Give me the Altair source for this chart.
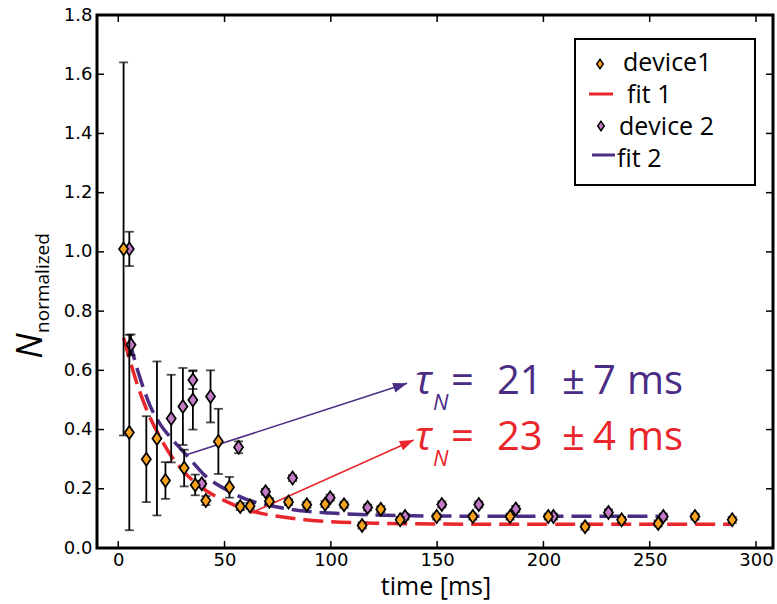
import altair as alt
import pandas as pd

# ---- measurements, device 1 ----
t1 = [2.5, 5.2, 13.2, 18.2, 22.2, 31.0, 36.2, 41.2, 47.1, 52.3, 57.4, 62.0, 71.1, 80.1,
      88.7, 97.3, 106.2, 114.7, 123.5, 132.6, 149.8, 166.8, 184.3, 202.3, 219.6, 236.8,
      254.0, 271.3, 288.8]
n1 = [1.01, 0.39, 0.30, 0.37, 0.228, 0.27, 0.213, 0.16, 0.36, 0.205, 0.14, 0.142, 0.158,
      0.155, 0.146, 0.148, 0.146, 0.076, 0.131, 0.095, 0.106, 0.106, 0.106, 0.106, 0.072,
      0.095, 0.083, 0.106, 0.095]
e1 = [0.63, 0.33, 0.145, 0.26, 0.062, 0.062, 0.035, 0.015, 0.11, 0.035, 0.012, 0.01, 0.01,
      0.01, 0.01, 0.01, 0.01, 0.01, 0.01, 0.01, 0.01, 0.01, 0.01, 0.01, 0.01, 0.01, 0.01,
      0.01, 0.01]

# ---- measurements, device 2 ----
t2 = [5.2, 6.0, 24.9, 30.4, 35.1, 35.1, 39.3, 43.4, 56.6, 69.3, 82.0, 99.7, 117.3, 134.9,
      152.2, 169.6, 187.0, 204.7, 230.6, 256.4]
n2 = [1.01, 0.686, 0.437, 0.478, 0.567, 0.50, 0.217, 0.512, 0.34, 0.19, 0.236, 0.17, 0.137,
      0.106, 0.147, 0.147, 0.132, 0.106, 0.12, 0.106]
e2 = [0.058, 0.035, 0.148, 0.13, 0.03, 0.10, 0.01, 0.088, 0.02, 0.01, 0.01, 0.01, 0.01,
      0.01, 0.01, 0.01, 0.01, 0.01, 0.01, 0.01]

# ---- exponential fits ----
fit1_t = [2.5, 10, 15, 20, 25, 30, 35, 40, 50, 60, 70, 80, 90, 100, 120, 150, 200, 250, 288.8]
fit1_n = [0.71, 0.53, 0.44, 0.37, 0.31, 0.265, 0.228, 0.20, 0.16, 0.13, 0.113, 0.102, 0.094,
          0.089, 0.084, 0.081, 0.080, 0.080, 0.080]
fit2_t = [5.2, 10, 15, 20, 25, 30, 35, 40, 50, 60, 70, 80, 90, 100, 120, 150, 200, 256.4]
fit2_n = [0.70, 0.58, 0.48, 0.415, 0.37, 0.33, 0.29, 0.25, 0.20, 0.165, 0.145, 0.132, 0.123,
          0.118, 0.112, 0.108, 0.107, 0.107]

# arrows from the fit curves to the time-constant labels
arrow1 = {"t": [62.1], "n": [0.117], "t2": [139.0], "n2": [0.365]}
arrow2 = {"t": [31.0], "n": [0.312], "t2": [135.9], "n2": [0.556]}

x_ticks = [0, 50, 100, 150, 200, 250, 300]
y_ticks = [0.0, 0.2, 0.4, 0.6, 0.8, 1.0, 1.2, 1.4, 1.6, 1.8]

ORANGE = "#f7a21f"
ORCHID = "#c27ac6"
RED = "#e8262b"
INDIGO = "#4b2c85"
TEXT_FONT = "Open Sans"
DIAMOND = "M0,-1L0.7,0L0,1L-0.7,0Z"
HEAD = "M0,0L-2,-0.72L-2,0.72Z"

W, H = 676, 533

xscale = alt.Scale(domain=[-10, 308], nice=False, zero=False)
yscale = alt.Scale(domain=[0, 1.8], nice=False, zero=False)
xaxis = alt.Axis(values=x_ticks, format="d", title="", ticks=False, domain=False, grid=False,
                 labelFont="DejaVu Sans", labelFontSize=18, labelColor="black", labelPadding=3)
yaxis = alt.Axis(values=y_ticks, format=".1f", title="", ticks=False, domain=False, grid=False,
                 labelFont="DejaVu Sans", labelFontSize=18, labelColor="black", labelPadding=5)


def X(field):
    return alt.X(f"{field}:Q", scale=xscale, axis=xaxis)


def Y(field):
    return alt.Y(f"{field}:Q", scale=yscale, axis=yaxis)


def series_frame(t, n, e):
    return pd.DataFrame({"t": t, "n": n,
                         "lo": [a - b for a, b in zip(n, e)],
                         "hi": [a + b for a, b in zip(n, e)]})


d1 = series_frame(t1, n1, e1)
d2 = series_frame(t2, n2, e2)


def errorbars(df):
    bars = alt.Chart(df).mark_rule(color="black", strokeWidth=1.8).encode(
        x=X("t"), y=Y("lo"), y2="hi")
    cap_hi = alt.Chart(df).mark_tick(orient="horizontal", color="black", size=9,
                                     thickness=1.8).encode(x=X("t"), y=Y("hi"))
    cap_lo = alt.Chart(df).mark_tick(orient="horizontal", color="black", size=9,
                                     thickness=1.8).encode(x=X("t"), y=Y("lo"))
    return bars + cap_hi + cap_lo


def diamonds(df, color):
    return alt.Chart(df).mark_point(shape=DIAMOND, filled=True, fill=color, stroke="black",
                                    strokeWidth=1.7, size=170, opacity=1).encode(
        x=X("t"), y=Y("n"))


def fit_line(t, n, color):
    return alt.Chart(pd.DataFrame({"t": t, "n": n})).mark_line(
        color=color, strokeWidth=3.5, strokeDash=[20, 8], interpolate="monotone").encode(
        x=X("t"), y=Y("n"))


def arrow(spec, color, angle):
    df = pd.DataFrame(spec)
    shaft = alt.Chart(df).mark_rule(color=color, strokeWidth=1.6).encode(
        x=X("t"), y=Y("n"), x2="t2", y2="n2")
    head = alt.Chart(df).mark_point(shape=HEAD, filled=True, color=color, size=196,
                                    angle=angle, opacity=1).encode(x=X("t2"), y=Y("n2"))
    return shaft + head


def label(txt, px, py, size, color="black", style="normal", angle=0, align="left",
          baseline="alphabetic", font=TEXT_FONT):
    return alt.Chart(pd.DataFrame({"txt": [txt]})).mark_text(
        align=align, baseline=baseline, font=font, fontSize=size, fontStyle=style,
        color=color, angle=angle).encode(x=alt.value(px), y=alt.value(py), text="txt:N")


# inward frame ticks on all four sides
xt = pd.DataFrame({"t": x_ticks})
yt = pd.DataFrame({"n": y_ticks})
tick_kw = dict(color="black", strokeWidth=1.5)
frame_ticks = (
    alt.Chart(xt).mark_rule(**tick_kw).encode(x=X("t"), y=alt.value(H), y2=alt.value(H - 7))
    + alt.Chart(xt).mark_rule(**tick_kw).encode(x=X("t"), y=alt.value(0), y2=alt.value(7))
    + alt.Chart(yt).mark_rule(**tick_kw).encode(y=Y("n"), x=alt.value(0), x2=alt.value(7))
    + alt.Chart(yt).mark_rule(**tick_kw).encode(y=Y("n"), x=alt.value(W), x2=alt.value(W - 7))
)


def tau_label(value, err, color, base):
    return (
        label("τ", 318, base, 40, color, style="italic")
        + label("N", 336, base + 16, 22, color, style="italic")
        + label("=", 354, base, 40, color)
        + label(value, 400, base, 40, color)
        + label("±", 465, base, 40, color)
        + label(err, 496, base, 40, color)
        + label("ms", 530, base, 40, color)
    )


legend = (
    alt.Chart(pd.DataFrame({"k": [0]})).mark_rect(fill="white", stroke="black",
                                                  strokeWidth=2).encode(
        x=alt.value(478), x2=alt.value(658), y=alt.value(24), y2=alt.value(170))
    + alt.Chart(pd.DataFrame({"k": [0]})).mark_point(
        shape=DIAMOND, filled=True, fill=ORANGE, stroke="black", strokeWidth=1.4, size=90,
        opacity=1).encode(x=alt.value(503), y=alt.value(49))
    + label("device1", 526, 56, 25)
    + alt.Chart(pd.DataFrame({"k": [0]})).mark_rule(color=RED, strokeWidth=3).encode(
        x=alt.value(492), x2=alt.value(516), y=alt.value(79))
    + label("fit 1", 530, 88, 25)
    + alt.Chart(pd.DataFrame({"k": [0]})).mark_point(
        shape=DIAMOND, filled=True, fill=ORCHID, stroke="black", strokeWidth=1.4, size=90,
        opacity=1).encode(x=alt.value(504), y=alt.value(111))
    + label("device 2", 522, 120, 25)
    + alt.Chart(pd.DataFrame({"k": [0]})).mark_rule(color=INDIGO, strokeWidth=3).encode(
        x=alt.value(495), x2=alt.value(518), y=alt.value(140))
    + label("fit 2", 520, 152, 25)
)

axis_titles = (
    label("time [ms]", 339, 580, 25, align="center")
    + label("N", -66, 331, 36, style="italic", angle=270, align="center", baseline="middle")
    + label("normalized", -54, 268, 19, angle=270, align="center", baseline="middle")
)

chart = alt.layer(
    frame_ticks,
    fit_line(fit1_t, fit1_n, RED),
    fit_line(fit2_t, fit2_n, INDIGO),
    arrow(arrow1, RED, 336),
    arrow(arrow2, INDIGO, 342),
    errorbars(d2),
    diamonds(d2, ORCHID),
    errorbars(d1),
    diamonds(d1, ORANGE),
    tau_label("21", "7", INDIGO, 379),
    tau_label("23", "4", RED, 435),
    legend,
    axis_titles,
).properties(
    width=W, height=H,
    autosize=alt.AutoSizeParams(type="none"),
    padding={"left": 97, "top": 15, "right": 4, "bottom": 56},
    background="white",
).configure_view(stroke="black", strokeWidth=3)

chart.save("out.html", embed_options={"renderer": "svg", "actions": False})
